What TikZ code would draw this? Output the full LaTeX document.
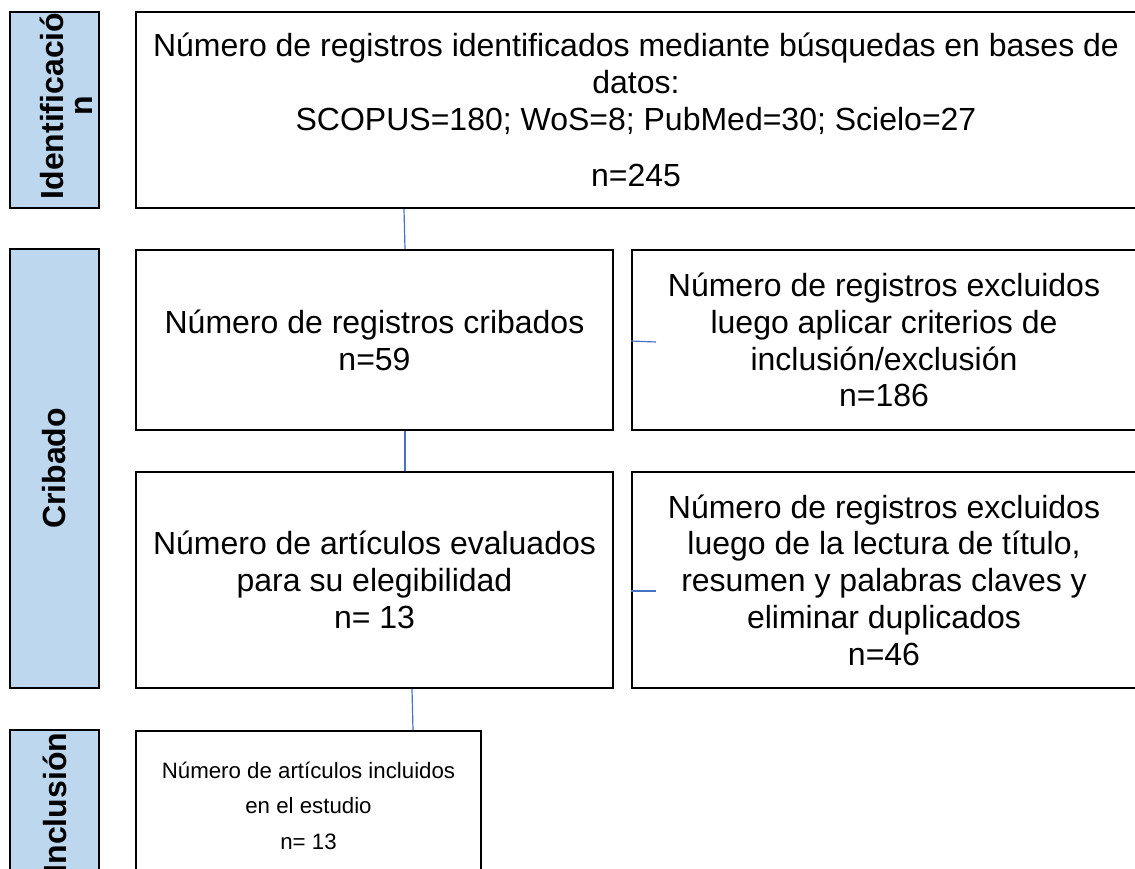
\documentclass[tikz,border=0pt]{standalone}
\usepackage{fontspec}
\setmainfont{Liberation Sans}
\usetikzlibrary{calc}
\definecolor{labfill}{HTML}{BDD7EE}
\definecolor{connblue}{HTML}{4472C4}
\tikzset{
  box/.style={draw=black, line width=1.5pt, fill=white, inner sep=0pt, align=center,
    font=\fontsize{24}{27.6}\selectfont},
  smallbox/.style={box, font=\fontsize{16.7}{26.6}\selectfont},
  labbox/.style={draw=black, line width=1.5pt, fill=labfill, inner sep=0pt},
  labtxt/.style={rotate=90, align=center, inner sep=0pt,
    font=\fontsize{24}{21.75}\selectfont\bfseries},
  conn/.style={draw=connblue, line width=0.9pt},
}
\begin{document}
\begin{tikzpicture}[x=0.75pt, y=-0.75pt]
\useasboundingbox (0,0) rectangle (1135,868);
\fill[white] (0,0) rectangle (1135,868);
\clip (0,0) rectangle (1135,868);
% side labels
\node[labbox, minimum width={89*0.75pt}, minimum height={196*0.75pt}] (idlab) at (54.5,110) {};
\node[labtxt] (idtxt) at ($(idlab.center)+(12,-4)$) {Identificació\\n};
\node[labbox, minimum width={89*0.75pt}, minimum height={439*0.75pt}] (crlab) at (54.5,468.5) {};
\node[labtxt] (crtxt) at (crlab.center) {Cribado};
\node[labbox, minimum width={89*0.75pt}, minimum height={150*0.75pt}] (inlab) at (54.5,805) {};
\node[labtxt] (intxt) at ($(inlab.center)+(0,-2)$) {Inclusión};
% main boxes
\node[box, minimum width={1000*0.75pt}, minimum height={196*0.75pt}] (top) at (636,110)
  {Número de registros identificados mediante búsquedas en bases de\\datos:\\SCOPUS=180; WoS=8; PubMed=30; Scielo=27\\[15pt]n=245};
\node[box, minimum width={477*0.75pt}, minimum height={180*0.75pt}] (crib) at (374.5,340)
  {Número de registros cribados\\n=59};
\node[box, minimum width={504*0.75pt}, minimum height={180*0.75pt}] (ex1) at (884,340)
  {\rule{0pt}{6pt}Número de registros excluidos\\luego aplicar criterios de\\inclusión/exclusión\\n=186};
\node[box, minimum width={477*0.75pt}, minimum height={216*0.75pt}] (eval) at (374.5,580)
  {Número de artículos evaluados\\para su elegibilidad\\n= 13};
\node[box, minimum width={504*0.75pt}, minimum height={216*0.75pt}] (ex2) at (884,580)
  {Número de registros excluidos\\luego de la lectura de título,\\resumen y palabras claves y\\eliminar duplicados\\n=46};
\node[smallbox, minimum width={345*0.75pt}, minimum height={149*0.75pt}] (incl) at (308.5,805.5)
  {Número de artículos incluidos\\en el estudio\\n= 13};
% connectors
\draw[conn] ($(top.south west)+(269,0)$) -- ($(crib.north west)+(270,0)$);
\draw[conn] ($(ex1.west)+(0,1)$) -- ($(ex1.west)+(25,2)$);
\draw[conn] ($(crib.south west)+(270,0)$) -- ($(eval.north west)+(270,0)$);
\draw[conn] ($(ex2.west)+(0,11)$) -- ($(ex2.west)+(25,11)$);
\draw[conn] ($(eval.south west)+(277,0)$) -- ($(incl.north west)+(278,0)$);
\end{tikzpicture}
\end{document}
